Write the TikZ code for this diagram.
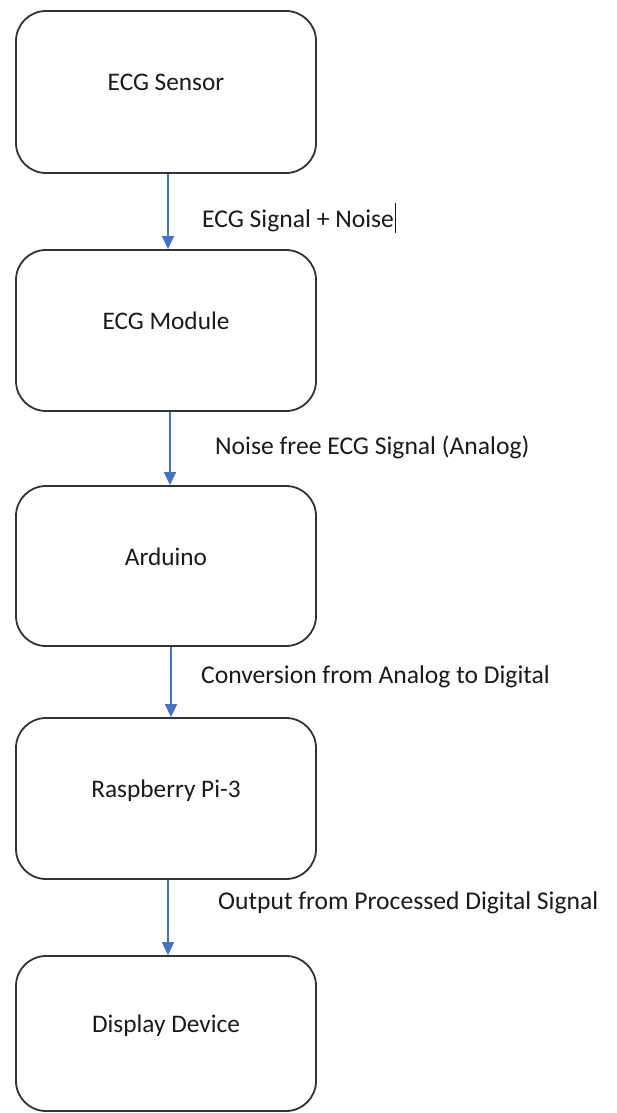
\documentclass[tikz,border=0pt]{standalone}
\usepackage{fontspec}
\setmainfont{Carlito}
\usetikzlibrary{arrows.meta}
\definecolor{edge}{HTML}{333333}
\definecolor{flow}{HTML}{4472C4}
\definecolor{ink}{HTML}{1A1A1A}
\begin{document}
\begin{tikzpicture}[x=1pt,y=-1pt,
    stage/.style={draw=edge,line width=1.8pt,rounded corners=30pt,minimum width=300pt,
      text=ink,font=\fontsize{25.3}{30}\selectfont,text height=16pt,text depth=18pt},
    link/.style={draw=flow,line width=1.5pt,-{Triangle[length=13pt,width=12pt]}},
    tag/.style={anchor=west,inner sep=0pt,text=ink,font=\fontsize{25.6}{30}\selectfont}]
    \useasboundingbox (0,0) rectangle (616,1113);
    \node[stage,minimum height=162pt] (sensor) at (166,92) {ECG Sensor};
    \node[stage,minimum height=161pt] (module) at (166,330.5) {ECG Module};
    \node[stage,minimum height=160pt] (arduino) at (166,566) {Arduino};
    \node[stage,minimum height=161pt] (rpi) at (166,798.5) {Raspberry Pi-3};
    \node[stage,minimum height=155pt] (display) at (166,1033.5) {Display Device};
    \draw[link] ([xshift=2pt]sensor.south) -- ([xshift=2pt]module.north);
    \draw[link] ([xshift=4pt]module.south) -- ([xshift=4pt]arduino.north);
    \draw[link] ([xshift=5pt]arduino.south) -- ([xshift=5pt]rpi.north);
    \draw[link] ([xshift=2pt]rpi.south) -- ([xshift=2pt]display.north);
    \node[tag] (noisy) at (202,218) {ECG Signal + Noise\kern1pt\rule[-6pt]{1.2pt}{30pt}};
    \node[tag] (clean) at (215,447) {Noise free ECG Signal (Analog)};
    \node[tag] (adc) at (201,677) {Conversion from Analog to Digital};
    \node[tag] (out) at (218,903) {Output from Processed Digital Signal};
\end{tikzpicture}
\end{document}
